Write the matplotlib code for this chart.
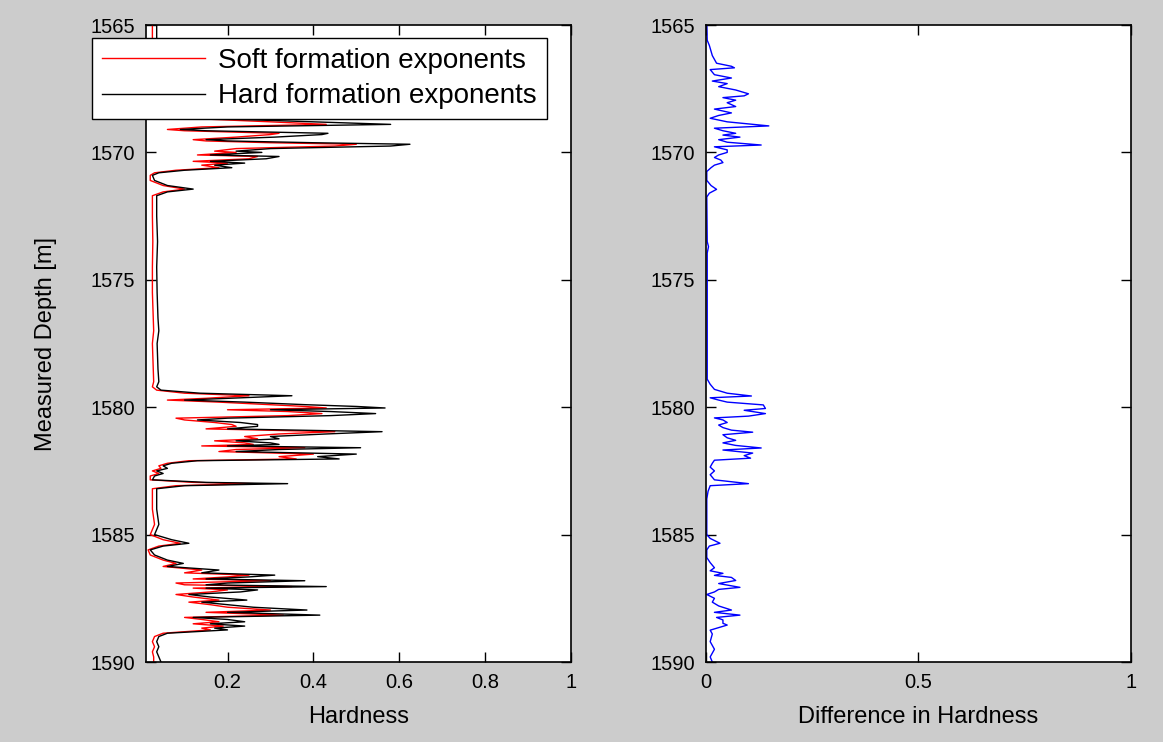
import matplotlib.pyplot as plt

# depth [m] of the log samples (left panel)
depth = [1565.0, 1565.5, 1566.0, 1566.5, 1566.6, 1566.7, 1566.8, 1567.0, 1567.1, 1567.2,
         1567.4, 1567.5, 1567.6, 1567.7, 1567.8, 1567.9, 1568.0, 1568.1, 1568.2, 1568.3,
         1568.4, 1568.5, 1568.6, 1568.7, 1568.8, 1568.9, 1569.0, 1569.1, 1569.15, 1569.25,
         1569.3, 1569.4, 1569.5, 1569.55, 1569.62, 1569.68, 1569.75, 1569.85, 1569.95, 1570.0,
         1570.1, 1570.16, 1570.25, 1570.35, 1570.42, 1570.5, 1570.6, 1570.7, 1570.8, 1570.9,
         1571.1, 1571.3, 1571.44, 1571.55, 1571.7, 1572.5, 1573.5, 1574.5, 1575.5, 1576.5,
         1577.0, 1577.5, 1578.5, 1579.0, 1579.2, 1579.33, 1579.45, 1579.55, 1579.65, 1579.72,
         1579.8, 1579.9, 1579.97, 1580.03, 1580.1, 1580.17, 1580.25, 1580.33, 1580.43, 1580.5,
         1580.6, 1580.68, 1580.75, 1580.85, 1580.96, 1581.05, 1581.15, 1581.24, 1581.32, 1581.4,
         1581.46, 1581.52, 1581.59, 1581.66, 1581.74, 1581.84, 1581.94, 1582.03, 1582.1, 1582.2,
         1582.3, 1582.4, 1582.5, 1582.6, 1582.7, 1582.85, 1582.95, 1583.0, 1583.08, 1583.2,
         1584.0, 1584.6, 1585.0, 1585.2, 1585.34, 1585.45, 1585.6, 1585.8, 1586.0, 1586.13,
         1586.25, 1586.39, 1586.5, 1586.59, 1586.66, 1586.74, 1586.81, 1586.9, 1586.97, 1587.04,
         1587.1, 1587.17, 1587.25, 1587.35, 1587.45, 1587.57, 1587.65, 1587.75, 1587.85, 1587.96,
         1588.05, 1588.16, 1588.25, 1588.33, 1588.42, 1588.5, 1588.59, 1588.67, 1588.74, 1588.87,
         1589.0, 1589.2, 1589.4, 1589.6, 1589.8, 1590.0]

hard = [0.035, 0.035, 0.04, 0.06, 0.15, 0.2, 0.06, 0.14, 0.2, 0.1,
        0.12, 0.2, 0.3, 0.38, 0.25, 0.14, 0.22, 0.28, 0.22, 0.12,
        0.13, 0.15, 0.245, 0.22, 0.4, 0.58, 0.2, 0.09, 0.15, 0.434,
        0.42, 0.31, 0.15, 0.2, 0.4, 0.625, 0.58, 0.3, 0.22, 0.28,
        0.16, 0.32, 0.29, 0.16, 0.24, 0.17, 0.21, 0.1, 0.04, 0.025,
        0.03, 0.06, 0.12, 0.06, 0.035, 0.035, 0.037, 0.035, 0.036, 0.038,
        0.04, 0.036, 0.038, 0.04, 0.035, 0.045, 0.136, 0.35, 0.2, 0.1,
        0.24, 0.38, 0.5, 0.567, 0.3, 0.44, 0.545, 0.44, 0.2, 0.13,
        0.23, 0.27, 0.27, 0.2, 0.56, 0.43, 0.3, 0.32, 0.22, 0.3,
        0.32, 0.2, 0.51, 0.32, 0.22, 0.5, 0.41, 0.46, 0.13, 0.07,
        0.05, 0.06, 0.035, 0.05, 0.03, 0.025, 0.15, 0.34, 0.1, 0.035,
        0.035, 0.04, 0.03, 0.07, 0.11, 0.05, 0.02, 0.03, 0.06, 0.097,
        0.06, 0.18, 0.14, 0.31, 0.25, 0.15, 0.38, 0.2, 0.15, 0.43,
        0.15, 0.27, 0.23, 0.11, 0.16, 0.245, 0.14, 0.2, 0.26, 0.385,
        0.2, 0.415, 0.12, 0.2, 0.24, 0.16, 0.24, 0.17, 0.2, 0.06,
        0.04, 0.035, 0.04, 0.035, 0.04, 0.045]

soft = [0.025, 0.025, 0.03, 0.04, 0.09, 0.13, 0.05, 0.08, 0.14, 0.08,
        0.09, 0.13, 0.21, 0.28, 0.17, 0.1, 0.15, 0.21, 0.15, 0.1,
        0.11, 0.11, 0.2, 0.16, 0.3, 0.43, 0.14, 0.06, 0.1, 0.32,
        0.3, 0.22, 0.12, 0.15, 0.3, 0.5, 0.45, 0.22, 0.17, 0.22,
        0.13, 0.27, 0.25, 0.12, 0.2, 0.14, 0.18, 0.08, 0.03, 0.02,
        0.02, 0.05, 0.1, 0.05, 0.025, 0.025, 0.026, 0.025, 0.025, 0.027,
        0.028, 0.025, 0.027, 0.028, 0.025, 0.035, 0.1, 0.25, 0.15, 0.06,
        0.18, 0.3, 0.38, 0.43, 0.2, 0.34, 0.42, 0.34, 0.08, 0.1,
        0.17, 0.21, 0.22, 0.15, 0.45, 0.32, 0.24, 0.27, 0.17, 0.24,
        0.26, 0.14, 0.38, 0.22, 0.18, 0.4, 0.32, 0.36, 0.11, 0.06,
        0.04, 0.045, 0.025, 0.04, 0.02, 0.02, 0.12, 0.26, 0.08, 0.025,
        0.025, 0.03, 0.02, 0.05, 0.09, 0.04, 0.015, 0.02, 0.05, 0.08,
        0.05, 0.14, 0.1, 0.25, 0.2, 0.12, 0.3, 0.08, 0.1, 0.35,
        0.12, 0.2, 0.16, 0.08, 0.12, 0.18, 0.11, 0.16, 0.2, 0.3,
        0.15, 0.33, 0.1, 0.14, 0.18, 0.12, 0.19, 0.14, 0.16, 0.05,
        0.03, 0.025, 0.03, 0.025, 0.028, 0.028]

# right panel: difference in hardness
depth_diff = [1565.0, 1565.6, 1565.8, 1566.2, 1566.5, 1566.62, 1566.68, 1566.75, 1566.95, 1567.08,
              1567.2, 1567.3, 1567.42, 1567.55, 1567.7, 1567.78, 1567.85, 1567.95, 1568.05, 1568.2,
              1568.3, 1568.45, 1568.55, 1568.66, 1568.8, 1568.96, 1569.05, 1569.15, 1569.25, 1569.32,
              1569.4, 1569.5, 1569.6, 1569.71, 1569.78, 1569.9, 1570.0, 1570.1, 1570.2, 1570.3,
              1570.4, 1570.5, 1570.6, 1570.75, 1571.1, 1571.3, 1571.45, 1571.6, 1571.75, 1573.5,
              1573.7, 1573.95, 1578.9, 1579.1, 1579.3, 1579.45, 1579.56, 1579.63, 1579.72, 1579.8,
              1579.91, 1580.05, 1580.12, 1580.25, 1580.35, 1580.42, 1580.5, 1580.6, 1580.7, 1580.8,
              1580.9, 1580.98, 1581.08, 1581.2, 1581.3, 1581.4, 1581.5, 1581.6, 1581.68, 1581.8,
              1581.9, 1582.0, 1582.08, 1582.2, 1582.35, 1582.5, 1582.65, 1582.85, 1583.0, 1583.08,
              1583.3, 1583.6, 1585.0, 1585.15, 1585.34, 1585.45, 1585.6, 1585.9, 1586.1, 1586.3,
              1586.42, 1586.52, 1586.6, 1586.68, 1586.8, 1586.92, 1587.07, 1587.15, 1587.25, 1587.35,
              1587.5, 1587.65, 1587.8, 1587.96, 1588.05, 1588.16, 1588.25, 1588.35, 1588.48, 1588.55,
              1588.65, 1588.75, 1588.9, 1589.2, 1589.5, 1589.8, 1590.0]

diff = [0.002, 0.003, 0.008, 0.015, 0.025, 0.06, 0.067, 0.01, 0.02, 0.06,
        0.015, 0.05, 0.03, 0.07, 0.1, 0.09, 0.04, 0.07, 0.05, 0.07,
        0.02, 0.06, 0.03, 0.01, 0.05, 0.148, 0.02, 0.04, 0.07, 0.04,
        0.08, 0.03, 0.05, 0.13, 0.02, 0.05, 0.05, 0.03, 0.02, 0.035,
        0.04, 0.02, 0.012, 0.002, 0.002, 0.012, 0.025, 0.008, 0.002, 0.003,
        0.006, 0.003, 0.003, 0.01, 0.02, 0.05, 0.107, 0.01, 0.03, 0.05,
        0.135, 0.14, 0.09, 0.14, 0.1, 0.02, 0.04, 0.05, 0.03, 0.04,
        0.06, 0.11, 0.04, 0.05, 0.07, 0.04, 0.07, 0.13, 0.04, 0.11,
        0.09, 0.105, 0.02, 0.015, 0.01, 0.02, 0.01, 0.02, 0.1, 0.01,
        0.005, 0.002, 0.002, 0.01, 0.033, 0.008, 0.002, 0.002, 0.01, 0.02,
        0.01, 0.04, 0.02, 0.06, 0.07, 0.03, 0.08, 0.03, 0.02, 0.002,
        0.02, 0.015, 0.03, 0.06, 0.02, 0.08, 0.025, 0.04, 0.04, 0.05,
        0.03, 0.01, 0.015, 0.01, 0.02, 0.01, 0.015]

plt.rcParams['font.family'] = ['Liberation Sans', 'DejaVu Sans']

fig = plt.figure(figsize=(11.63, 7.42), dpi=100, facecolor='#cccccc')
ax1 = fig.add_axes([0.1255, 0.1078, 0.3654, 0.8585])
ax2 = fig.add_axes([0.607, 0.1078, 0.3654, 0.8585])

ax1.plot(soft, depth, color='red', lw=1, label='Soft formation exponents')
ax1.plot(hard, depth, color='black', lw=1, label='Hard formation exponents')
ax2.plot(diff, depth_diff, color='blue', lw=1)

for ax in (ax1, ax2):
    ax.set_ylim(1590, 1565)
    ax.set_yticks([1565, 1570, 1575, 1580, 1585, 1590])
    ax.tick_params(direction='in', top=True, right=True, length=7, width=1,
                   labelsize=14.5, pad=8)
    for sp in ax.spines.values():
        sp.set_linewidth(1.2)

ax1.set_xlim(0.01, 1)
ax1.set_xticks([0.2, 0.4, 0.6, 0.8, 1])
ax1.set_xticklabels(['0.2', '0.4', '0.6', '0.8', '1'])
ax2.set_xlim(0, 1)
ax2.set_xticks([0, 0.5, 1])
ax2.set_xticklabels(['0', '0.5', '1'])

ax1.set_xlabel('Hardness', fontsize=17, labelpad=10)
ax2.set_xlabel('Difference in Hardness', fontsize=17, labelpad=10)
ax1.set_ylabel('Measured Depth [m]', fontsize=17, labelpad=24)

leg = ax1.legend(loc='upper left', bbox_to_anchor=(92 / 1163, 1 - 38 / 742),
                 bbox_transform=fig.transFigure, fontsize=20, fancybox=False,
                 framealpha=1, edgecolor='black', borderaxespad=0,
                 handlelength=3.7, handletextpad=0.5, labelspacing=0.35,
                 borderpad=0.35)
leg.get_frame().set_linewidth(1)

plt.savefig('out.png', dpi=100, facecolor=fig.get_facecolor())
